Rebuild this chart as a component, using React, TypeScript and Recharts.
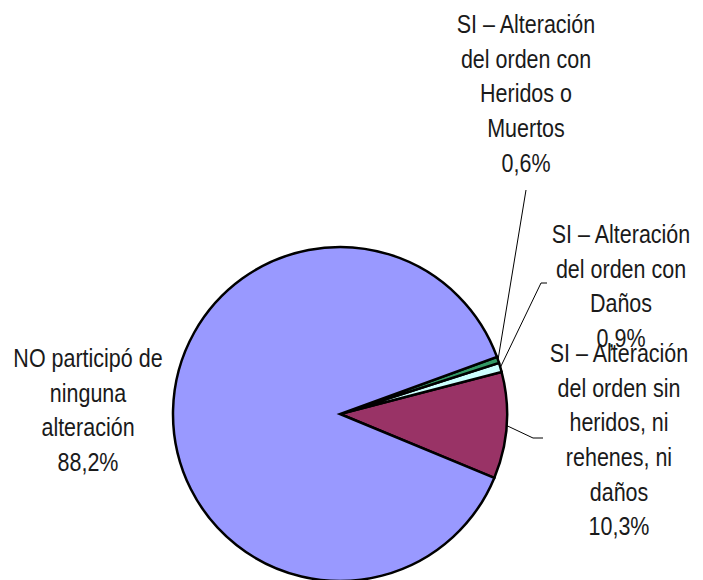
import { PieChart, Pie, Cell } from 'recharts'

// slice order runs counter-clockwise from the lower edge of the maroon slice
const categories = [
  'SI – Alteración del orden sin heridos, ni rehenes, ni daños',
  'SI – Alteración del orden con Daños',
  'SI – Alteración del orden con Heridos o Muertos',
  'NO participó de ninguna alteración',
]
const values = [10.3, 0.9, 0.6, 88.2]
const labelLines = [
  ['SI – Alteración', 'del orden sin', 'heridos, ni', 'rehenes, ni', 'daños'],
  ['SI – Alteración', 'del orden con', 'Daños'],
  ['SI – Alteración', 'del orden con', 'Heridos o', 'Muertos'],
  ['NO participó de', 'ninguna', 'alteración'],
]
const colors = ['#993366', '#CCFFFF', '#339966', '#9999FF']

const data = categories.map((name, i) => ({ name, value: values[i] }))

// where each label block sits and how its leader line bends
const labelLayout = [
  { x: 619, y: 362, leader: [[533, 438], [543, 438]] },
  { x: 621, y: 243, leader: [[541, 283], [547, 283]] },
  { x: 526, y: 33, leader: [[526, 190]] },
  { x: 88, y: 367, leader: [] },
]

// no narrow font installed, so squeeze Liberation Sans horizontally
const FONT = '"Liberation Sans", Arial, sans-serif'
const SQUEEZE = 0.86
const LINE = 34.7
const RAD = Math.PI / 180

const fmt = (v: number) => v.toFixed(1).replace('.', ',') + '%'

function SliceLabel(props: any) {
  const { cx, cy, midAngle, outerRadius, index, value } = props
  const lay = labelLayout[index]
  const sx = cx + outerRadius * Math.cos(-midAngle * RAD)
  const sy = cy + outerRadius * Math.sin(-midAngle * RAD)
  const pts = [[sx, sy], ...lay.leader]
  const lines = [...labelLines[index], fmt(value)]
  return (
    <g>
      {lay.leader.length > 0 && (
        <polyline points={pts.map(p => p.join(',')).join(' ')} fill="none" stroke="#000" strokeWidth={1} />
      )}
      <g transform={`translate(${lay.x},0) scale(${SQUEEZE},1)`}>
        <text x={0} y={lay.y} textAnchor="middle" fontFamily={FONT} fontSize={25} fill="#1a1a1a">
          {lines.map((l, i) => (
            <tspan key={i} x={0} y={lay.y + i * LINE}>{l}</tspan>
          ))}
        </text>
      </g>
    </g>
  )
}

export default function App() {
  return (
    <div style={{ position: 'absolute', left: 0, top: 0, width: 703, height: 580, background: '#fff' }}>
      <PieChart width={703} height={580} margin={{ top: 0, right: 0, bottom: 0, left: 0 }}>
        <Pie
          data={data}
          dataKey="value"
          nameKey="name"
          cx={340}
          cy={414}
          outerRadius={167}
          startAngle={-22.5}
          endAngle={337.5}
          label={SliceLabel}
          labelLine={false}
          isAnimationActive={false}
        >
          {data.map((d, i) => (
            <Cell key={d.name} fill={colors[i]} stroke="#000" strokeWidth={2.5} />
          ))}
        </Pie>
      </PieChart>
    </div>
  )
}
